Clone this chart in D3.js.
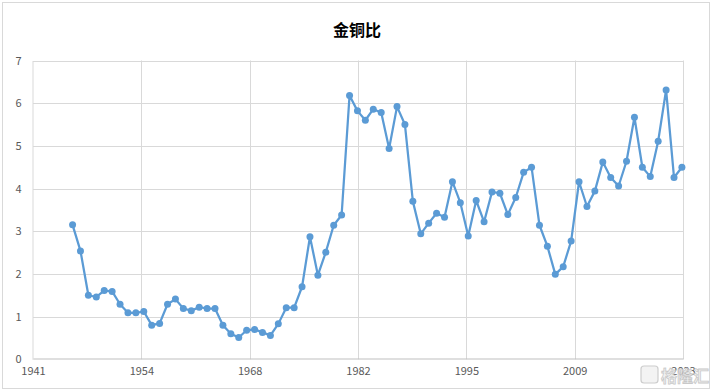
<!DOCTYPE html>
<html>
<head>
<meta charset="utf-8">
<script src="https://cdn.jsdelivr.net/npm/d3@7/dist/d3.min.js"></script>
<style>
  html, body { margin: 0; padding: 0; background: #fff; }
  svg { display: block; }
  text { font-family: "Noto Sans CJK SC", "Noto Sans", sans-serif; }
</style>
</head>
<body>
<svg id="chart" width="714" height="392"></svg>
<script>
// ---- data ----
const title = "金铜比";
const years = [
  1946,1947,1948,1949,1950,1951,1952,1953,1954,1955,
  1956,1957,1958,1959,1960,1961,1962,1963,1964,1965,
  1966,1967,1968,1969,1970,1971,1972,1973,1974,1975,
  1976,1977,1978,1979,1980,1981,1982,1983,1984,1985,
  1986,1987,1988,1989,1990,1991,1992,1993,1994,1995,
  1996,1997,1998,1999,2000,2001,2002,2003,2004,2005,
  2006,2007,2008,2009,2010,2011,2012,2013,2014,2015,
  2016,2017,2018,2019,2020,2021,2022,2023
];
const ratio = [
  3.15,2.54,1.50,1.46,1.61,1.59,1.29,1.09,1.09,1.12,
  0.80,0.84,1.29,1.41,1.19,1.14,1.22,1.19,1.19,0.80,
  0.60,0.51,0.68,0.70,0.63,0.56,0.83,1.21,1.21,1.70,
  2.87,1.97,2.51,3.14,3.38,6.18,5.82,5.60,5.86,5.78,
  4.94,5.92,5.50,3.70,2.94,3.19,3.42,3.33,4.16,3.67,
  2.89,3.72,3.22,3.92,3.89,3.39,3.79,4.38,4.50,3.14,
  2.65,1.99,2.17,2.77,4.16,3.58,3.94,4.62,4.26,4.06,
  4.64,5.67,4.50,4.28,5.11,6.31,4.26,4.50
];
const xTickLabels = ["1941","1954","1968","1982","1995","2009","2023"];
const yTicks = [0,1,2,3,4,5,6,7];
const axisStart = new Date(1941, 0, 1);
const tickStepDays = 5000;

// ---- layout ----
const svg = d3.select("#chart");
const W = 714, H = 392;
const plot = { left: 33, right: 683, top: 60.5, bottom: 359.3 };

svg.append("rect")
  .attr("x", 2.5).attr("y", 2.5)
  .attr("width", 707).attr("height", 386)
  .attr("fill", "#fff").attr("stroke", "#d9d9d9").attr("stroke-width", 1);

const dayMs = 86400000;
const tickDates = d3.range(xTickLabels.length).map(i => new Date(axisStart.getTime() + i * tickStepDays * dayMs));
const x = d3.scaleTime()
  .domain([tickDates[0], tickDates[tickDates.length - 1]])
  .range([plot.left, plot.right]);
const y = d3.scaleLinear().domain([0, 7]).range([plot.bottom, plot.top]);

// horizontal grid
svg.append("g").selectAll("line").data(yTicks.filter(d => d > 0)).join("line")
  .attr("x1", plot.left).attr("x2", plot.right)
  .attr("y1", d => Math.round(y(d)) + 0.5).attr("y2", d => Math.round(y(d)) + 0.5)
  .attr("stroke", "#d9d9d9").attr("stroke-width", 1);

// vertical grid
svg.append("g").selectAll("line").data(tickDates.slice(1)).join("line")
  .attr("x1", d => Math.round(x(d)) + 0.5).attr("x2", d => Math.round(x(d)) + 0.5)
  .attr("y1", plot.top).attr("y2", plot.bottom)
  .attr("stroke", "#d9d9d9").attr("stroke-width", 1);

// axes
const yAxis = svg.append("g")
  .attr("transform", `translate(${Math.round(plot.left) - 0.5},0)`)
  .call(d3.axisLeft(y).tickValues(yTicks).tickSize(0).tickPadding(11).tickFormat(d3.format("d")));
yAxis.select(".domain").attr("stroke", "#d9d9d9");
yAxis.selectAll("text").attr("fill", "#595959").style("font-size", "11px");

const xAxis = svg.append("g")
  .attr("transform", `translate(0,${Math.round(plot.bottom) - 0.5})`)
  .call(d3.axisBottom(x).tickValues(tickDates).tickSize(0).tickPadding(9)
    .tickFormat((d, i) => xTickLabels[i]));
xAxis.select(".domain").attr("stroke", "#bfbfbf");
xAxis.selectAll("text").attr("fill", "#595959").style("font-size", "11px");

// title
svg.append("text")
  .attr("x", 357).attr("y", 36)
  .attr("text-anchor", "middle")
  .attr("font-size", "16px").attr("font-weight", "bold")
  .attr("fill", "#000").text(title);

// series
const pts = years.map((yr, i) => ({ date: new Date(yr, 0, 1), v: ratio[i] }));
const line = d3.line().x(d => x(d.date)).y(d => y(d.v));
svg.append("path").datum(pts)
  .attr("d", line)
  .attr("fill", "none").attr("stroke", "#5b9bd5")
  .attr("stroke-width", 2.25).attr("stroke-linejoin", "round");
svg.append("g").selectAll("circle").data(pts).join("circle")
  .attr("cx", d => x(d.date)).attr("cy", d => y(d.v))
  .attr("r", 3.5).attr("fill", "#5b9bd5");

// watermark
const wm = svg.append("g").attr("opacity", 0.9);
wm.append("rect").attr("x", 641).attr("y", 366).attr("width", 17).attr("height", 17)
  .attr("rx", 3).attr("fill", "#f2f2f2").attr("stroke", "#c8c8c8").attr("stroke-width", 1.2);
wm.append("text").attr("x", 661).attr("y", 382)
  .attr("font-size", "16px").attr("font-weight", "bold")
  .attr("fill", "#f0f0f0").attr("stroke", "#c4c4c4").attr("stroke-width", 0.8)
  .text("格隆汇");
</script>
</body>
</html>
